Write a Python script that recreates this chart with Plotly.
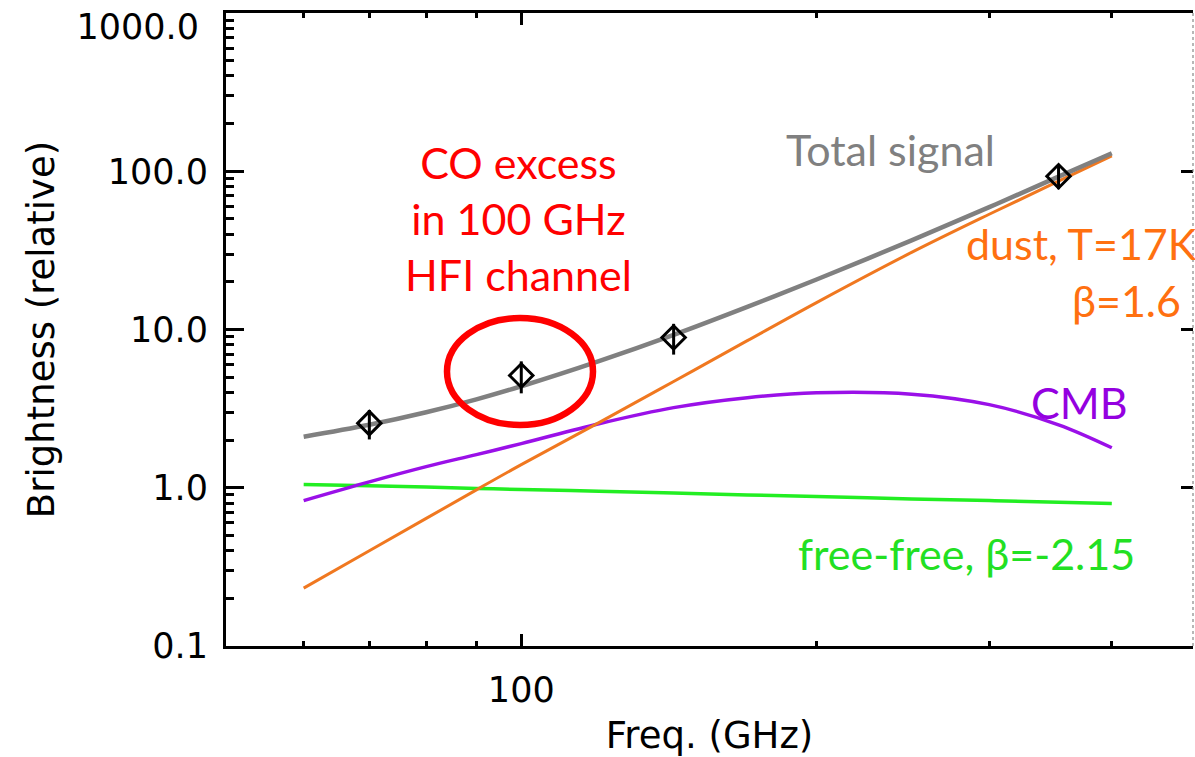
import math
import plotly.graph_objects as go

# Frequencies (GHz) at which the model curves are sampled
freq = [60, 70, 80, 90, 100, 120, 143, 170, 200, 250, 300, 353, 400]

# Model components (relative brightness)
total_signal = [2.10, 2.50, 3.00, 3.62, 4.38, 6.31, 9.25, 13.9, 20.7, 36.6, 59.3, 92.4, 130.0]
dust = [0.232, 0.40, 0.64, 0.97, 1.40, 2.58, 4.69, 8.5, 14.8, 30.7, 53.5, 86.5, 125.0]
cmb = [0.83, 1.09, 1.36, 1.62, 1.90, 2.54, 3.21, 3.71, 3.98, 3.90, 3.35, 2.50, 1.79]
free_free = [1.05, 1.03, 1.01, 0.99, 0.975, 0.95, 0.925, 0.90, 0.88, 0.85, 0.83, 0.81, 0.795]

# Channel measurements with 1-sigma errors
chan_freq = [70, 100, 143, 353]
chan_val = [2.56, 5.12, 8.9, 93.0]
chan_err = [0.54, 1.17, 1.96, 16.0]

# Axis ticks
y_major = [0.1, 1, 10, 100, 1000]
y_major_text = ["0.1", "1.0", "10.0", "100.0", ""]
y_top_text = ["1000.0"]
y_minor = [m * d for d in [0.1, 1, 10, 100] for m in range(2, 10)]
x_major = [100]
x_major_text = ["100"]
x_minor = [60, 70, 80, 90, 200, 300, 400]

W, H = 1195, 757
ML, MR, MT, MB = 226, 2, 13, 111
PW, PH = W - ML - MR, H - MT - MB
YR = [-1, 3]
XR = [math.log10(50), math.log10(484)]
PX_PER_DECADE = PH / (YR[1] - YR[0])


def px(x):
    return (x - ML) / PW


def py(y):
    return (H - MB - y) / PH


TICK_FONT = dict(family="DejaVu Sans", size=35, color="black")
TITLE_FONT = dict(family="DejaVu Sans", size=37, color="black")
NOTE_FONT = "Lato, Open Sans, sans-serif"

fig = go.Figure()

line_kw = dict(mode="lines", hoverinfo="skip", showlegend=False)
fig.add_trace(go.Scatter(x=freq, y=free_free, line=dict(color="#22EE22", width=3.5, shape="spline"), **line_kw))
fig.add_trace(go.Scatter(x=freq, y=cmb, line=dict(color="#9A10E8", width=3.5, shape="spline"), **line_kw))
fig.add_trace(go.Scatter(x=freq, y=dust, line=dict(color="#F07820", width=3, shape="spline"), **line_kw))
fig.add_trace(go.Scatter(x=freq, y=total_signal, line=dict(color="#808080", width=4.5, shape="spline"), **line_kw))

fig.add_trace(go.Scatter(
    x=chan_freq, y=chan_val, mode="markers", showlegend=False,
    marker=dict(symbol="diamond-open", size=18, color="black", line=dict(width=3, color="black")),
    error_y=dict(type="data", array=chan_err, visible=True, color="black", thickness=3, width=0),
))

# invisible carriers so the overlay axes are drawn
for ax in ["y2", "y3"]:
    fig.add_trace(go.Scatter(x=chan_freq, y=chan_val, yaxis=ax, mode="markers",
                             marker=dict(opacity=0), hoverinfo="skip", showlegend=False))

# the top label sits just under its tick so it stays inside the page
top_label_pos = 10 ** (YR[1] - 14 / PX_PER_DECADE)

fig.update_layout(
    width=W, height=H,
    margin=dict(l=ML, r=MR, t=MT, b=MB),
    paper_bgcolor="white", plot_bgcolor="white",
    xaxis=dict(
        type="log", range=XR, showgrid=False, zeroline=False,
        showline=True, linecolor="black", linewidth=3, mirror="ticks",
        ticks="inside", ticklen=12, tickwidth=2.5, tickcolor="black",
        tickvals=x_major, ticktext=x_major_text, tickfont=TICK_FONT,
        ticklabelstandoff=11,
        minor=dict(tickvals=x_minor, ticks="inside", ticklen=5, tickwidth=2.5, tickcolor="black", showgrid=False),
        title=dict(text="Freq. (GHz)", font=TITLE_FONT, standoff=29),
        automargin=False,
    ),
    yaxis=dict(
        type="log", range=YR, showgrid=False, zeroline=False,
        showline=True, linecolor="black", linewidth=3, mirror=False,
        ticks="inside", ticklen=18, tickwidth=2.5, tickcolor="black",
        tickvals=y_major, ticktext=y_major_text, tickfont=TICK_FONT,
        ticklabelstandoff=8,
        minor=dict(tickvals=y_minor, ticks="inside", ticklen=8, tickwidth=2.5, tickcolor="black", showgrid=False),
        title=dict(text="Brightness (relative)", font=TITLE_FONT, standoff=42),
        automargin=False,
    ),
    yaxis2=dict(
        type="log", range=YR, overlaying="y", side="left", showgrid=False, zeroline=False,
        showline=False, ticks="inside", ticklen=18, tickwidth=2.5, tickcolor="rgba(0,0,0,0)",
        tickvals=[top_label_pos], ticktext=y_top_text, tickfont=TICK_FONT,
        ticklabelstandoff=26, automargin=False,
    ),
    yaxis3=dict(
        type="log", range=YR, overlaying="y", side="right", showgrid=False, zeroline=False,
        showline=False, ticks="inside", ticklen=12, tickwidth=2.5, tickcolor="black",
        tickvals=[0.1, 1, 10, 100, 1000], showticklabels=False, automargin=False,
    ),
)

# right frame edge, faint dotted
fig.add_shape(type="line", xref="paper", yref="paper", x0=1.0, x1=1.0, y0=0, y1=1,
              line=dict(color="#888888", width=1.2, dash="dot"))

# highlight around the 100 GHz channel
fig.add_shape(type="circle", xref="paper", yref="paper",
              x0=px(447), x1=px(593), y0=py(425), y1=py(318),
              line=dict(color="#FF0000", width=6.5))

notes = [
    ("CO excess<br>in 100 GHz<br>HFI channel", 518, 218, "center", "#FF0000"),
    ("Total signal", 890, 150, "center", "#808080"),
    ("dust, T=17K", 1199, 243, "right", "#FF7010"),
    ("β=1.6", 1183, 300, "right", "#FF7010"),
    ("CMB", 1079, 403, "center", "#9400E0"),
    ("free-free, β=-2.15", 966, 553, "center", "#22E022"),
]
for text, x, y, anchor, color in notes:
    fig.add_annotation(text=text, x=px(x), y=py(y), xref="paper", yref="paper",
                       xanchor=anchor, yanchor="middle", showarrow=False, align="center",
                       font=dict(family=NOTE_FONT, size=43, color=color))

fig.write_html("out.html")
